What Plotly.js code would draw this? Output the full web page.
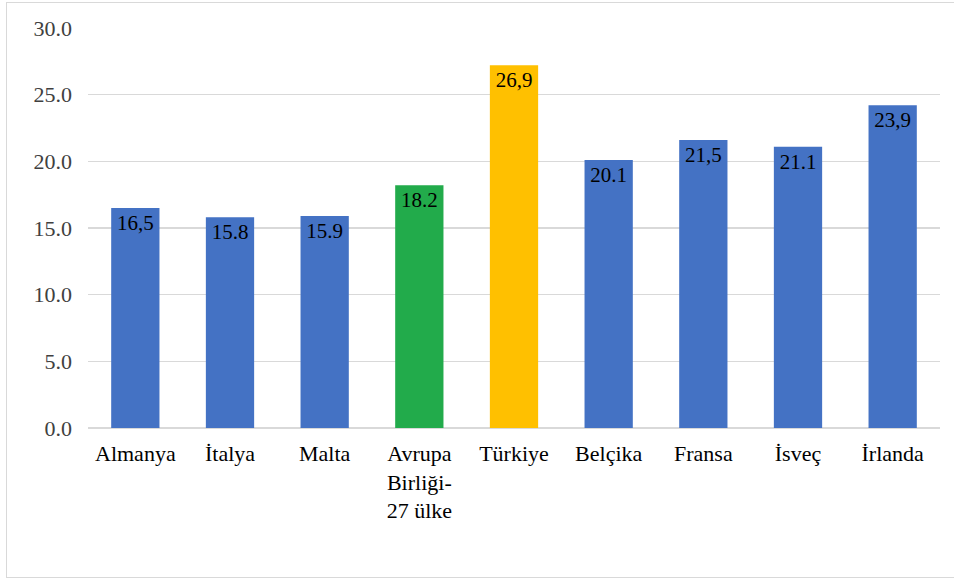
<!DOCTYPE html>
<html>
<head>
<meta charset="utf-8">
<script src="https://cdn.plot.ly/plotly-3.0.1.min.js"></script>
<style>
  html, body { margin: 0; padding: 0; background: #fff; }
  #wrap { position: relative; width: 954px; height: 579px; overflow: hidden; }
  #chart { position: absolute; left: 0; top: 0; width: 954px; height: 579px; }
  #frame { position: absolute; left: 6px; top: 2px; width: 1000px; height: 574px;
           border: 1.5px solid #d9d9d9; pointer-events: none; }
</style>
</head>
<body>
<div id="wrap">
  <div id="chart"></div>
  <div id="frame"></div>
</div>
<script>
const categories = ["Almanya", "İtalya", "Malta", "Avrupa<br>Birliği-<br>27 ülke", "Türkiye", "Belçika", "Fransa", "İsveç", "İrlanda"];
const values = [16.5, 15.8, 15.9, 18.2, 27.2, 20.1, 21.6, 21.1, 24.2];
const valueLabels = ["16,5", "15.8", "15.9", "18.2", "26,9", "20.1", "21,5", "21.1", "23,9"];
const barColors = ["#4472C4", "#4472C4", "#4472C4", "#22AB4B", "#FFC000", "#4472C4", "#4472C4", "#4472C4", "#4472C4"];
const yTicks = [0, 5, 10, 15, 20, 25, 30];
const yTickLabels = ["0.0", "5.0", "10.0", "15.0", "20.0", "25.0", "30.0"];

const serif = "Liberation Serif";

Plotly.newPlot("chart", [{
  type: "bar",
  x: categories,
  y: values,
  text: valueLabels,
  textposition: "inside",
  insidetextanchor: "end",
  constraintext: "none",
  textangle: 0,
  textfont: { family: serif, size: 21, color: "#000000" },
  marker: { color: barColors, line: { width: 0 } },
  hoverinfo: "none",
  cliponaxis: false
}], {
  width: 954,
  height: 579,
  margin: { l: 88, r: 14, t: 28, b: 151 },
  paper_bgcolor: "#ffffff",
  plot_bgcolor: "#ffffff",
  bargap: 0.49,
  showlegend: false,
  font: { family: serif, color: "#000000" },
  xaxis: {
    type: "category",
    tickfont: { family: serif, size: 22, color: "#000000" },
    showgrid: false,
    showline: false,
    ticks: "",
    ticklabelstandoff: 10,
    automargin: false
  },
  yaxis: {
    range: [0, 30],
    tickvals: yTicks,
    ticktext: yTickLabels,
    tickfont: { family: serif, size: 22, color: "#404040" },
    showgrid: true,
    gridcolor: "#d9d9d9",
    gridwidth: 1.5,
    zeroline: true,
    zerolinecolor: "#d9d9d9",
    zerolinewidth: 1.5,
    showline: false,
    ticks: "",
    ticklabelstandoff: 15,
    automargin: false
  }
}, { staticPlot: true, displayModeBar: false });
</script>
</body>
</html>
